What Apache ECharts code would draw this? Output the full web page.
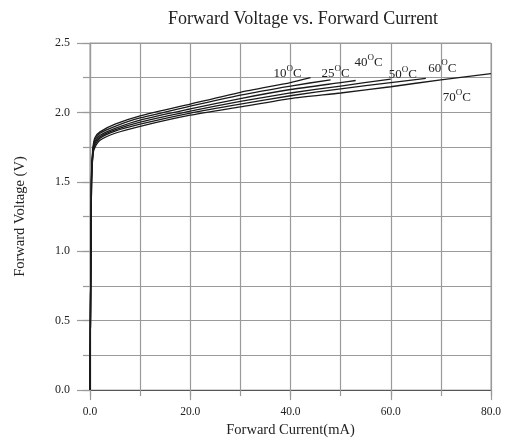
<!DOCTYPE html>
<html>
<head>
<meta charset="utf-8">
<script src="https://cdn.jsdelivr.net/npm/echarts@6/dist/echarts.min.js"></script>
<style>html,body{margin:0;padding:0;background:#fff;}#c{width:508px;height:443px;}</style>
</head>
<body>
<div id="c"></div>
<script>
const temperatures = ['10', '25', '40', '50', '60', '70'];
const current_10C = [0, 0.3, 0.6, 1, 2, 5, 10, 20, 30, 40, 44];
const voltage_10C = [0, 1.56, 1.75, 1.82, 1.86, 1.915, 1.975, 2.06, 2.145, 2.215, 2.25];
const current_25C = [0, 0.3, 0.6, 1, 2, 5, 10, 20, 30, 40, 48];
const voltage_25C = [0, 1.54, 1.74, 1.805, 1.85, 1.90, 1.96, 2.045, 2.125, 2.19, 2.235];
const current_40C = [0, 0.3, 0.6, 1, 2, 5, 10, 20, 30, 40, 50, 53];
const voltage_40C = [0, 1.52, 1.73, 1.79, 1.835, 1.885, 1.945, 2.025, 2.10, 2.165, 2.215, 2.23];
const current_50C = [0, 0.3, 0.6, 1, 2, 5, 10, 20, 30, 40, 50, 60];
const voltage_50C = [0, 1.51, 1.72, 1.78, 1.825, 1.875, 1.93, 2.01, 2.08, 2.14, 2.19, 2.24];
const current_60C = [0, 0.3, 0.6, 1, 2, 5, 10, 20, 30, 40, 50, 60, 67];
const voltage_60C = [0, 1.50, 1.71, 1.765, 1.815, 1.865, 1.915, 1.995, 2.06, 2.12, 2.17, 2.215, 2.245];
const current_70C = [0, 0.3, 0.6, 1, 2, 5, 10, 20, 30, 40, 50, 60, 70, 80];
const voltage_70C = [0, 1.49, 1.70, 1.75, 1.80, 1.85, 1.90, 1.98, 2.04, 2.10, 2.14, 2.185, 2.235, 2.28];
// label anchors (data units) for the temperature annotations
const labelCurrent = [39.4, 49.0, 55.6, 62.4, 70.3, 73.2];
const labelVoltage = [2.292, 2.292, 2.37, 2.285, 2.33, 2.115];

const currents = [current_10C, current_25C, current_40C, current_50C, current_60C, current_70C];
const voltages = [voltage_10C, voltage_25C, voltage_40C, voltage_50C, voltage_60C, voltage_70C];

const FONT = '"Liberation Serif", "DejaVu Serif", serif';
const GRID = '#9a9a9a';

const series = temperatures.map((t, k) => ({
  type: 'line',
  name: t + '°C',
  data: currents[k].map((c, i) => [c, voltages[k][i]]),
  showSymbol: false,
  smooth: 0.2,
  lineStyle: {color: '#1a1a1a', width: 1.3},
  silent: true,
  z: 5,
  markPoint: {
    symbol: 'circle',
    symbolSize: 0,
    silent: true,
    label: {
      show: true,
      position: 'inside',
      formatter: '{a|' + t + '}{s|O}{a|C}',
      rich: {
        a: {fontFamily: FONT, fontSize: 13, color: '#222', lineHeight: 16, verticalAlign: 'bottom'},
        s: {fontFamily: FONT, fontSize: 9, color: '#222', lineHeight: 9, verticalAlign: 'top'}
      }
    },
    data: [{coord: [labelCurrent[k], labelVoltage[k]]}]
  }
}));

const chart = echarts.init(document.getElementById('c'));
chart.setOption({
  animation: false,
  backgroundColor: '#fff',
  title: {
    text: 'Forward Voltage vs. Forward Current',
    left: 163,
    top: 5,
    textStyle: {fontFamily: FONT, fontSize: 18, fontWeight: 'normal', color: '#222'}
  },
  grid: {left: 90, right: 17, top: 43, bottom: 46, show: true, borderColor: GRID, borderWidth: 1},
  xAxis: [{
    type: 'value', min: 0, max: 80, interval: 10,
    name: 'Forward Current(mA)', nameLocation: 'middle', nameGap: 31,
    nameTextStyle: {fontFamily: FONT, fontSize: 14.5, color: '#222'},
    axisLine: {show: true, lineStyle: {color: '#555', width: 1}},
    axisTick: {show: true, length: 6, lineStyle: {color: GRID, width: 1.2}},
    splitLine: {show: true, lineStyle: {color: GRID, width: 1.2}},
    axisLabel: {
      fontFamily: FONT, fontSize: 11.5, color: '#222', margin: 16,
      formatter: v => (v % 20 === 0 ? v.toFixed(1) : '')
    }
  }, {
    type: 'value', min: 0, max: 80, interval: 20, position: 'bottom',
    axisLine: {show: false}, splitLine: {show: false}, axisLabel: {show: false},
    axisTick: {show: true, length: 10, lineStyle: {color: GRID, width: 1.2}}
  }],
  yAxis: [{
    type: 'value', min: 0, max: 2.5, interval: 0.25,
    name: 'Forward Voltage (V)', nameLocation: 'middle', nameGap: 62, nameRotate: 90,
    nameTextStyle: {fontFamily: FONT, fontSize: 14.5, color: '#222'},
    axisLine: {show: true, lineStyle: {color: GRID, width: 1.2}},
    axisTick: {show: true, length: 7, lineStyle: {color: GRID, width: 1.2}},
    splitLine: {show: true, lineStyle: {color: GRID, width: 1.2}},
    axisLabel: {
      fontFamily: FONT, fontSize: 12, color: '#222', margin: 20,
      formatter: v => (Math.abs(v * 2 - Math.round(v * 2)) < 1e-6 ? v.toFixed(1) : '')
    }
  }, {
    type: 'value', min: 0, max: 2.5, interval: 0.5, position: 'left',
    axisLine: {show: false}, splitLine: {show: false}, axisLabel: {show: false},
    axisTick: {show: true, length: 13, lineStyle: {color: GRID, width: 1.2}}
  }],
  series: series
});
</script>
</body>
</html>
